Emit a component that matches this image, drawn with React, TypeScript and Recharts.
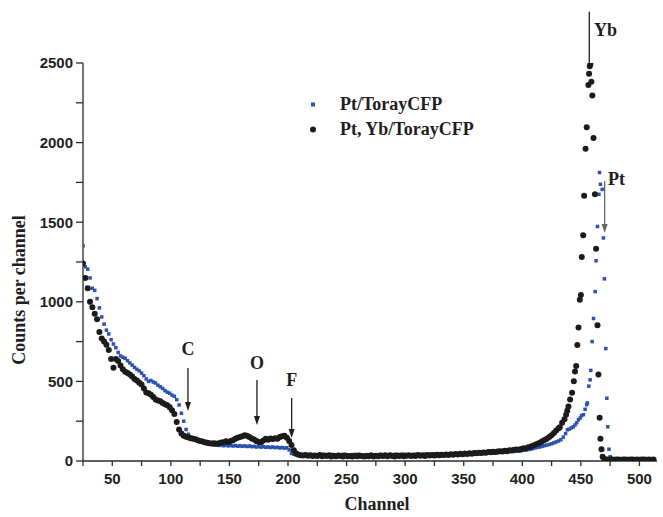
import { ScatterChart, Scatter, XAxis, YAxis, ReferenceLine, ReferenceDot } from "recharts";

// Pt, Yb/TorayCFP — channels 25..429, step 2
const lowStart = 25;
const lowStep = 2;
const blackLow = [
  1240, 1150, 1085, 1000, 965, 925, 890, 810, 770, 750,
  730, 698, 640, 585, 640, 628, 600, 576, 560, 552,
  544, 530, 515, 505, 492, 480, 456, 430, 425, 416,
  402, 387, 380, 376, 364, 356, 350, 338, 318, 296,
  245, 198, 172, 158, 152, 148, 143, 140, 136, 130,
  126, 122, 118, 115, 112, 110, 112, 108, 112, 116,
  118, 124, 120, 126, 131, 140, 146, 150, 156, 162,
  158, 150, 142, 135, 125, 120, 117, 128, 140, 134,
  141, 138, 143, 140, 150, 155, 158, 146, 126, 100,
  68, 47, 40, 36, 34, 38, 33, 36, 31, 35,
  32, 37, 30, 34, 31, 36, 29, 33, 30, 35,
  31, 28, 34, 30, 32, 29, 33, 30, 35, 31,
  28, 32, 30, 34, 29, 33, 30, 35, 31, 34,
  30, 36, 32, 29, 34, 31, 35, 30, 33, 36,
  32, 34, 31, 37, 33, 36, 32, 38, 34, 37,
  35, 39, 36, 40, 37, 41, 38, 42, 40, 44,
  41, 45, 43, 47, 44, 48, 46, 50, 48, 52,
  50, 54, 52, 56, 55, 58, 56, 60, 62, 59,
  64, 62, 67, 66, 70, 72, 70, 76, 80, 78,
  86, 90, 96, 102, 108, 115, 124, 132, 140, 150,
  162, 176, 192,
];
const blackPeakChannels = [
  431, 432, 434, 436, 437.4, 438.4, 439.4, 440.8, 442.5, 444,
  445, 446, 447, 448, 449.1, 450, 450.8, 452, 452.8, 454,
  455, 456.4, 457, 457.6, 458.2, 459, 459.8, 460.8, 462, 463,
  464.2, 465, 466, 466.7, 467.6, 468.6,
];
const blackPeakCounts = [
  205, 212, 240, 262, 291, 315, 343, 386, 428, 501,
  562, 596, 729, 839, 1013, 1043, 1281, 1418, 1666, 1961,
  2096, 2362, 2433, 2480, 2493, 2383, 2296, 2029, 1675, 1334,
  853, 543, 272, 139, 74, 27,
];
const blackTailStart = 470;
const blackTail = [12, 10, 9, 11, 8, 10, 9, 8, 10, 9, 8, 9, 10, 8, 9, 8, 9, 10, 8, 9, 8, 9];

// Pt/TorayCFP
const blueLow = [
  1352, 1220, 1205, 1150, 1085, 1072, 1020, 962, 905, 860,
  822, 798, 762, 735, 712, 682, 660, 652, 645, 630,
  616, 602, 588, 576, 566, 552, 536, 515, 500, 506,
  496, 490, 476, 466, 456, 442, 432, 426, 414, 406,
  385, 352, 300, 250, 198, 168, 150, 140, 134, 128,
  122, 118, 114, 110, 106, 104, 100, 102, 98, 100,
  96, 99, 95, 98, 94, 97, 93, 96, 92, 95,
  91, 94, 90, 92, 88, 91, 87, 90, 86, 88,
  85, 88, 84, 86, 82, 85, 81, 83, 70, 48,
  42, 38, 40, 36, 39, 35, 40, 37, 41, 36,
  39, 35, 42, 37, 40, 36, 41, 38, 35, 40,
  37, 42, 36, 39, 35, 40, 37, 41, 36, 39,
  35, 40, 38, 42, 37, 39, 36, 41, 38, 43,
  37, 40, 36, 42, 39, 41, 37, 43, 39, 36,
  40, 38, 42, 37, 41, 39, 43, 38, 41, 40,
  42, 39, 44, 41, 43, 40, 44, 42, 45, 43,
  46, 44, 47, 45, 48, 46, 49, 47, 50, 48,
  51, 49, 52, 50, 54, 52, 55, 53, 57, 55,
  58, 56, 60, 62, 60, 63, 65, 64, 68, 70,
  72, 74, 78, 82, 86, 88, 92, 96, 100, 104,
  108, 114, 120,
];
const bluePeakChannels = [
  431, 433, 435, 437, 438.5, 440, 442, 443.5, 445, 446.5,
  448, 449.4, 450.6, 452.2, 453.6, 455, 455.6, 456.8, 457.9, 458.5,
  459.6, 460.8, 462.2, 463, 464.2, 465.4, 465.9, 466.7, 468.2, 469.3,
  470.1, 471.3, 472.2, 473, 474, 475,
];
const bluePeakCounts = [
  126, 134, 150, 172, 196, 200, 208, 215, 226, 240,
  259, 270, 285, 291, 325, 354, 365, 470, 510, 569,
  750, 895, 1064, 1258, 1473, 1675, 1812, 1738, 1706, 1401,
  1144, 706, 394, 215, 74, 27,
];
const blueTailStart = 477;
const blueTail = [8, 6, 5, 7, 5, 6, 4, 5, 6, 5, 4, 5, 6, 4, 5, 5, 4, 5];

const xTicks = [25, 50, 75, 100, 125, 150, 175, 200, 225, 250, 275, 300, 325, 350, 375, 400, 425, 450, 475, 500];
const yTicks = [0, 250, 500, 750, 1000, 1250, 1500, 1750, 2000, 2250, 2500];

// element markers: arrow from -> to, label placed separately
const markerNames = ["C", "O", "F", "Yb", "Pt"];
const markerChannels = [114.6, 173.5, 203.1, 457.2, 470.3];
const markerFrom = [584, 509, 396, 2822, 1758];
const markerTo = [314, 226, 144, 2500, 1432];
const markerHead = [true, true, true, false, true];
const markerColor = ["#1e1e1e", "#1e1e1e", "#1e1e1e", "#1e1e1e", "#666"];
const labelChannels = [114.6, 173.5, 203.1, 461.2, 473.2];
const labelCounts = [703, 615, 509, 2707, 1771];
const labelAnchor = ["middle", "middle", "middle", "start", "start"];

function build(channels: number[], counts: number[]) {
  return channels.map((c, i) => ({ channel: c, counts: counts[i] }));
}
function stepped(start: number, step: number, counts: number[]) {
  return counts.map((v, i) => ({ channel: start + i * step, counts: v }));
}

const blackData = [
  ...stepped(lowStart, lowStep, blackLow),
  ...build(blackPeakChannels, blackPeakCounts),
  ...stepped(blackTailStart, 2, blackTail),
];
const blueData = [
  ...stepped(lowStart, lowStep, blueLow),
  ...build(bluePeakChannels, bluePeakCounts),
  ...stepped(blueTailStart, 2, blueTail),
];

const serif = "'Liberation Serif', 'Times New Roman', serif";
const sans = "'Liberation Sans', Arial, sans-serif";
const axisColor = "#2a2a2a";

const blueSquare = (p: any) => (
  <rect x={p.cx - 1.75} y={p.cy - 1.75} width={3.5} height={3.5} fill="#2c52b0" />
);
const blackDot = (p: any) => <circle cx={p.cx} cy={p.cy} r={3} fill="#1b1b1b" />;

function arrowShape(head: boolean, color: string) {
  return (p: any) => {
    const { x1, y1, x2, y2 } = p;
    const top = Math.min(y1, y2);
    const bottom = Math.max(y1, y2);
    return (
      <g>
        <line x1={x1} y1={top} x2={x2} y2={head ? bottom - 6 : bottom} stroke={color} strokeWidth={1.3} />
        {head && (
          <polygon
            points={`${x2 - 3},${bottom - 9} ${x2 + 3},${bottom - 9} ${x2},${bottom}`}
            fill={color}
          />
        )}
      </g>
    );
  };
}

function labelShape(text: string, anchor: string) {
  return (p: any) => (
    <text
      x={p.cx}
      y={p.cy}
      textAnchor={anchor as any}
      dominantBaseline="central"
      fontFamily={serif}
      fontWeight={700}
      fontSize={18}
      fill="#1e1e1e"
    >
      {text}
    </text>
  );
}

const xFmt = (v: number) => (v % 50 === 0 ? String(v) : "");
const yFmt = (v: number) => (v % 500 === 0 ? String(v) : "");

export default function App() {
  return (
    <div style={{ position: "absolute", left: 0, top: 0, width: 663, height: 517, background: "#fff" }}>
      <ScatterChart width={663} height={517} margin={{ top: 63, right: 6, bottom: 0, left: 0 }}>
        <XAxis
          type="number"
          dataKey="channel"
          domain={[25, 515]}
          ticks={xTicks}
          interval={0}
          allowDataOverflow
          tickFormatter={xFmt}
          tickSize={5}
          tickMargin={7}
          height={56}
          stroke={axisColor}
          strokeWidth={1.3}
          tick={{ fontSize: 15, fontWeight: 700, fill: "#231f20", fontFamily: sans }}
          label={{
            content: (props: any) => {
              const vb = props.viewBox;
              return (
                <text
                  x={vb.x + vb.width / 2 + 7}
                  y={510}
                  textAnchor="middle"
                  fontFamily={serif}
                  fontWeight={700}
                  fontSize={18}
                  fill="#1e1e1e"
                >
                  Channel
                </text>
              );
            },
          }}
        />
        <YAxis
          type="number"
          dataKey="counts"
          domain={[0, 2500]}
          ticks={yTicks}
          interval={0}
          allowDataOverflow
          tickFormatter={yFmt}
          tickSize={7}
          tickMargin={3}
          width={83}
          stroke={axisColor}
          strokeWidth={1.3}
          tick={{ fontSize: 15, fontWeight: 700, fill: "#231f20", fontFamily: sans }}
          label={{
            content: (props: any) => {
              const vb = props.viewBox;
              const cy = vb.y + vb.height / 2 + 28;
              return (
                <text
                  x={25}
                  y={cy}
                  transform={`rotate(-90 25 ${cy})`}
                  textAnchor="middle"
                  fontFamily={serif}
                  fontWeight={700}
                  fontSize={18}
                  fill="#1e1e1e"
                >
                  Counts per channel
                </text>
              );
            },
          }}
        />
        <Scatter name="Pt/TorayCFP" data={blueData} shape={blueSquare} isAnimationActive={false} />
        <Scatter name="Pt, Yb/TorayCFP" data={blackData} shape={blackDot} isAnimationActive={false} />
        {markerNames.map((n, i) => (
          <ReferenceLine
            key={"l" + n}
            ifOverflow="visible"
            segment={[
              { x: markerChannels[i], y: markerFrom[i] },
              { x: markerChannels[i], y: markerTo[i] },
            ]}
            shape={arrowShape(markerHead[i], markerColor[i])}
          />
        ))}
        {markerNames.map((n, i) => (
          <ReferenceDot
            key={"t" + n}
            x={labelChannels[i]}
            y={labelCounts[i]}
            r={0}
            ifOverflow="visible"
            shape={labelShape(n, labelAnchor[i])}
          />
        ))}
      </ScatterChart>
      <div
        style={{
          position: "absolute",
          left: 305,
          top: 92,
          fontFamily: serif,
          fontWeight: 700,
          fontSize: 18,
          color: "#1e1e1e",
          lineHeight: "25px",
        }}
      >
        <div style={{ display: "flex", alignItems: "center" }}>
          <svg width={35} height={25}>
            <rect x={6} y={10.5} width={4} height={4} fill="#2c52b0" />
          </svg>
          <span>Pt/TorayCFP</span>
        </div>
        <div style={{ display: "flex", alignItems: "center" }}>
          <svg width={35} height={25}>
            <circle cx={8} cy={12.5} r={3} fill="#1b1b1b" />
          </svg>
          <span>Pt, Yb/TorayCFP</span>
        </div>
      </div>
    </div>
  );
}
